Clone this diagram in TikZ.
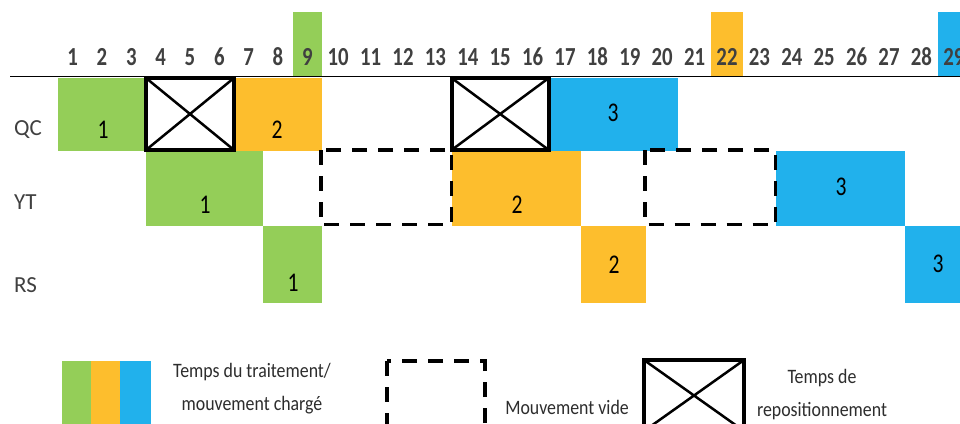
\documentclass[tikz,border=0pt]{standalone}
\usepackage{fontspec}
\setmainfont{Carlito}
\newfontfamily\numfont[FakeStretch=0.8]{Carlito}
\newfontfamily\legfont[FakeStretch=0.87]{Carlito}
\definecolor{qgreen}{RGB}{148,206,88}
\definecolor{qorange}{RGB}{253,190,45}
\definecolor{qblue}{RGB}{33,177,236}
\definecolor{lab}{RGB}{64,64,64}
\definecolor{legtxt}{RGB}{45,45,45}
\begin{document}
\begin{tikzpicture}[x=1pt,y=-1pt,
  declare function={xl(\k)=(\k<=10)*(58+29.33*(\k-1))+(\k>10)*(322+32.4*(\k-10));},
  colnum/.style={inner sep=0pt,text=lab,font=\numfont\bfseries\fontsize{26}{26}\selectfont},
  rowlab/.style={inner sep=0pt,anchor=west,text=lab,font=\fontsize{23}{23}\selectfont},
  barnum/.style={inner sep=0pt,text=black,font=\numfont\fontsize{27}{27}\selectfont},
  legtext/.style={inner sep=0pt,text=legtxt,font=\legfont\fontsize{20.5}{33}\selectfont,align=center},
  crossbox/.style={draw=black,line width=4pt},
  crossline/.style={draw=black,line width=2.5pt},
  emptymove/.style={draw=black,line width=3.5pt,dash pattern=on 15pt off 11pt}
]
\clip (0,0) rectangle (960,423);
\fill[white] (0,0) rectangle (960,423);
% column highlights
\fill[qgreen] ({xl(9)},12) rectangle ({xl(10)},76.5);
\fill[qorange] ({xl(22)},12) rectangle ({xl(23)},76.5);
\fill[qblue] ({xl(29)},12) rectangle (960,76.5);
% column numbers
\foreach \k in {1,...,29}{
  \pgfmathsetmacro\cx{(xl(\k)+xl(\k+1))/2}
  \node[colnum] (c\k) at (\cx,57) {\k};
}
% header line
\draw[line width=1.5pt] (10,76.5) -- (960,76.5);
% row labels
\node[rowlab] (qc) at (14,130) {QC};
\node[rowlab] (yt) at (14,202) {YT};
\node[rowlab] (rs) at (14,285) {RS};
% QC row
\fill[qgreen] ({xl(1)},77.5) rectangle ({xl(4)},151);
\fill[qorange] ({xl(7)},77.5) rectangle ({xl(10)},151);
\fill[qblue] ({xl(17)},77.5) rectangle ({xl(21)},151);
% YT row
\fill[qgreen] ({xl(4)},151) rectangle ({xl(8)},226);
\fill[qorange] ({xl(14)},151) rectangle ({xl(18)},226);
\fill[qblue] ({xl(24)},151) rectangle ({xl(28)},226);
% RS row
\fill[qgreen] ({xl(8)},226) rectangle ({xl(10)},303);
\fill[qorange] ({xl(18)},226) rectangle ({xl(20)},303);
\fill[qblue] ({xl(28)},226) rectangle (960,303);
% bar numbers
\node[barnum] (q1) at (103,130) {1};
\node[barnum] (q2) at (277,130) {2};
\node[barnum] (q3) at (613,113) {3};
\node[barnum] (y1) at (205,205) {1};
\node[barnum] (y2) at (517,205) {2};
\node[barnum] (y3) at (841,187) {3};
\node[barnum] (r1) at (293,283) {1};
\node[barnum] (r2) at (614,265) {2};
\node[barnum] (r3) at (938,264) {3};
% repositioning boxes
\foreach \a/\b in {4/7,14/17}{
  \draw[crossline] ({xl(\a)},78) -- ({xl(\b)},150) ({xl(\a)},150) -- ({xl(\b)},78);
  \draw[crossbox] ({xl(\a)},78) rectangle ({xl(\b)},150);
}
% empty moves
\draw[emptymove] ({xl(10)-1},150) rectangle ({xl(14)},224.5);
\draw[emptymove] ({xl(20)-1},150) rectangle ({xl(24)},224.5);
% legend
\fill[qgreen] (62,361) rectangle (91,435);
\fill[qorange] (91,361) rectangle (120,435);
\fill[qblue] (120,361) rectangle (151,435);
\node[legtext] (l1) at (252,389) {Temps du traitement/\\mouvement chargé};
\draw[emptymove] (387,361) rectangle (485,434);
\node[legtext] (l2) at (567,407) {Mouvement vide};
\draw[crossline] (644,360) -- (744,431) (644,431) -- (744,360);
\draw[crossbox] (644,360) rectangle (744,431);
\node[legtext] (l3) at (822,395) {Temps de\\repositionnement};
\end{tikzpicture}
\end{document}
